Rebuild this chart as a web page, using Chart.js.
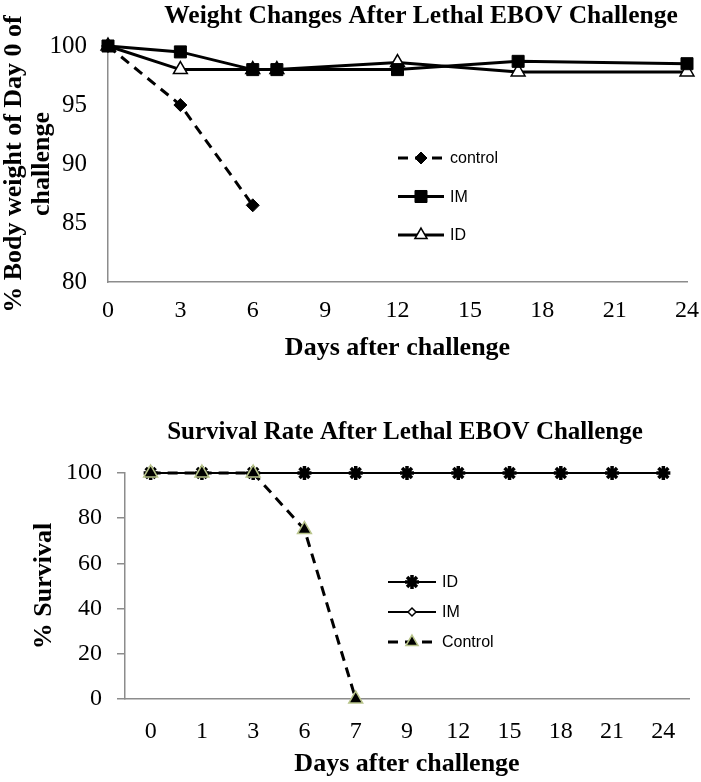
<!DOCTYPE html>
<html>
<head>
<meta charset="utf-8">
<script src="https://cdn.jsdelivr.net/npm/chart.js@4.4.1/dist/chart.umd.min.js"></script>
<style>
  body { margin: 0; background: #fff; }
  canvas { display: block; }
</style>
</head>
<body>
<canvas id="weightChart" width="701" height="385"></canvas>
<canvas id="survivalChart" width="701" height="397"></canvas>
<script>
// top chart data
const weightDays = [0, 3, 6, 7, 12, 17, 24];
const controlDays = [0, 3, 6];
const controlWeight = [100, 95, 86.5];
const imWeight = [100, 99.5, 98, 98, 98, 98.7, 98.5];
const idWeight = [100, 98, 98, 98, 98.6, 97.8, 97.8];

// bottom chart data
const survivalDays = ["0", "1", "3", "6", "7", "9", "12", "15", "18", "21", "24"];
const idSurvival = [100, 100, 100, 100, 100, 100, 100, 100, 100, 100, 100];
const imSurvival = [100, 100, 100, 100, 100, 100, 100, 100, 100, 100, 100];
const controlSurvival = [100, 100, 100, 75, 0, null, null, null, null, null, null];

const serif = "'Liberation Serif', 'Times New Roman', serif";
const axisGray = "#8c8c8c";

function pairs(xs, ys) {
  return xs.map((x, i) => ({ x: x, y: ys[i] }));
}

// draws the title and the in-plot legend
const extras = {
  id: "extras",
  afterDraw(chart, args, opts) {
    const c = chart.ctx;
    c.save();
    c.fillStyle = "#000";
    c.textBaseline = "middle";
    c.textAlign = "center";
    c.font = "bold " + opts.titleSize + "px " + serif;
    c.fillText(opts.title, opts.titleX, opts.titleY);

    opts.legend.forEach((item, i) => {
      const ds = chart.data.datasets[item.ds];
      const y = opts.legendY + i * opts.legendGap;
      const x0 = opts.legendX;
      const x1 = x0 + opts.legendLen;
      const mid = (x0 + x1) / 2;
      c.strokeStyle = "#000";
      c.lineWidth = ds.borderWidth;
      c.setLineDash(ds.borderDash || []);
      c.beginPath();
      c.moveTo(x0, y);
      c.lineTo(x1, y);
      c.stroke();
      c.setLineDash([]);
      if (item.style) {
        c.fillStyle = ds.pointBackgroundColor;
        c.strokeStyle = ds.pointBorderColor;
        c.lineWidth = ds.pointBorderWidth;
        Chart.helpers.drawPoint(c, {
          pointStyle: item.style,
          radius: item.radius,
          borderWidth: ds.pointBorderWidth,
          rotation: 0
        }, mid, y);
      }
      c.fillStyle = "#000";
      c.textAlign = "left";
      c.font = "16px 'Liberation Sans', Arial, sans-serif";
      c.fillText(item.label, x1 + 6, y + 1);
    });
    c.restore();
  }
};

new Chart(document.getElementById("weightChart"), {
  type: "line",
  data: {
    datasets: [
      {
        label: "control",
        data: pairs(controlDays, controlWeight),
        clip: false,
        borderColor: "#000",
        borderWidth: 3,
        borderDash: [10, 7],
        pointStyle: "rectRot",
        pointRadius: 6.5,
        pointBackgroundColor: "#000",
        pointBorderColor: "#000",
        pointBorderWidth: 1,
        order: 2
      },
      {
        label: "IM",
        data: pairs(weightDays, imWeight),
        clip: false,
        borderColor: "#000",
        borderWidth: 3,
        pointStyle: "rect",
        pointRadius: 8.5,
        pointBackgroundColor: "#000",
        pointBorderColor: "#000",
        pointBorderWidth: 1,
        order: 0
      },
      {
        label: "ID",
        data: pairs(weightDays, idWeight),
        clip: false,
        borderColor: "#000",
        borderWidth: 3,
        pointStyle: "triangle",
        pointRadius: 8,
        pointBackgroundColor: "#fff",
        pointBorderColor: "#000",
        pointBorderWidth: 1.5,
        order: 1
      }
    ]
  },
  options: {
    responsive: false,
    animation: false,
    devicePixelRatio: 1,
    layout: { padding: { top: 46, right: 14, left: 0, bottom: 0 } },
    plugins: {
      legend: { display: false },
      tooltip: { enabled: false },
      extras: {
        title: "Weight Changes After Lethal EBOV Challenge",
        titleSize: 25.5,
        titleX: 421,
        titleY: 16,
        legendX: 398,
        legendLen: 46,
        legendY: 158,
        legendGap: 38.5,
        legend: [
          { ds: 0, label: "control", style: "rectRot", radius: 6 },
          { ds: 1, label: "IM", style: "rect", radius: 8.5 },
          { ds: 2, label: "ID", style: "triangle", radius: 7 }
        ]
      }
    },
    scales: {
      x: {
        type: "linear",
        min: 0,
        max: 24,
        afterFit: s => { s.height = 103; s.paddingRight = 13; },
        grid: { display: false, drawTicks: false },
        border: { display: true, color: axisGray, width: 1.5 },
        ticks: { stepSize: 3, color: "#000", padding: 14, font: { family: serif, size: 24 } },
        title: {
          display: true,
          text: "Days after challenge",
          color: "#000",
          padding: { top: 0, bottom: 21 },
          font: { family: serif, size: 26, weight: "bold" }
        }
      },
      y: {
        min: 80,
        max: 100,
        afterFit: s => { s.width = 108; },
        grid: { display: false, drawTicks: false },
        border: { display: true, color: axisGray, width: 1.5 },
        ticks: { stepSize: 5, color: "#000", padding: 21, font: { family: serif, size: 25 } },
        title: {
          display: true,
          text: ["% Body weight of Day 0 of", "challenge"],
          color: "#000",
          padding: { top: 0, bottom: 0 },
          font: { family: serif, size: 26, weight: "bold", lineHeight: 1.08 }
        }
      }
    }
  },
  plugins: [extras]
});

new Chart(document.getElementById("survivalChart"), {
  type: "line",
  data: {
    labels: survivalDays,
    datasets: [
      {
        label: "ID",
        data: idSurvival,
        clip: false,
        borderColor: "#000",
        borderWidth: 2,
        pointStyle: "star",
        pointRadius: 7,
        pointBackgroundColor: "#000",
        pointBorderColor: "#000",
        pointBorderWidth: 3.5,
        order: 1
      },
      {
        label: "IM",
        data: imSurvival,
        clip: false,
        borderColor: "#000",
        borderWidth: 2,
        pointStyle: "rectRot",
        pointRadius: 0,
        pointBackgroundColor: "#fff",
        pointBorderColor: "#000",
        pointBorderWidth: 1.5,
        order: 2
      },
      {
        label: "Control",
        data: controlSurvival,
        clip: false,
        borderColor: "#000",
        borderWidth: 3,
        borderDash: [10, 7],
        pointStyle: "triangle",
        pointRadius: 8,
        pointBackgroundColor: "#000",
        pointBorderColor: "#b8c48a",
        pointBorderWidth: 1.5,
        order: 0
      }
    ]
  },
  options: {
    responsive: false,
    animation: false,
    devicePixelRatio: 1,
    layout: { padding: { top: 88, right: 12, left: 0, bottom: 0 } },
    plugins: {
      legend: { display: false },
      tooltip: { enabled: false },
      extras: {
        title: "Survival Rate After Lethal EBOV Challenge",
        titleSize: 25,
        titleX: 405,
        titleY: 48,
        legendX: 388,
        legendLen: 48,
        legendY: 197,
        legendGap: 30,
        legend: [
          { ds: 0, label: "ID", style: "star", radius: 7 },
          { ds: 1, label: "IM", style: "rectRot", radius: 4 },
          { ds: 2, label: "Control", style: "triangle", radius: 7 }
        ]
      }
    },
    scales: {
      x: {
        type: "category",
        offset: true,
        afterFit: s => { s.height = 397 - 314; },
        grid: { display: false, drawTicks: false },
        border: { display: true, color: axisGray, width: 1.5 },
        ticks: { color: "#000", padding: 18, font: { family: serif, size: 24 } },
        title: {
          display: true,
          text: "Days after challenge",
          color: "#000",
          padding: { top: 0, bottom: 2 },
          font: { family: serif, size: 26, weight: "bold" }
        }
      },
      y: {
        min: 0,
        max: 100,
        afterFit: s => { s.width = 125; },
        grid: { drawOnChartArea: false, drawTicks: true, tickLength: 8, color: axisGray, lineWidth: 1.5 },
        border: { display: true, color: axisGray, width: 1.5 },
        ticks: { stepSize: 20, color: "#000", padding: 15, font: { family: serif, size: 24 } },
        title: {
          display: true,
          text: "% Survival",
          color: "#000",
          padding: { top: 29, bottom: 0 },
          font: { family: serif, size: 26, weight: "bold" }
        }
      }
    }
  },
  plugins: [extras]
});
</script>
</body>
</html>
